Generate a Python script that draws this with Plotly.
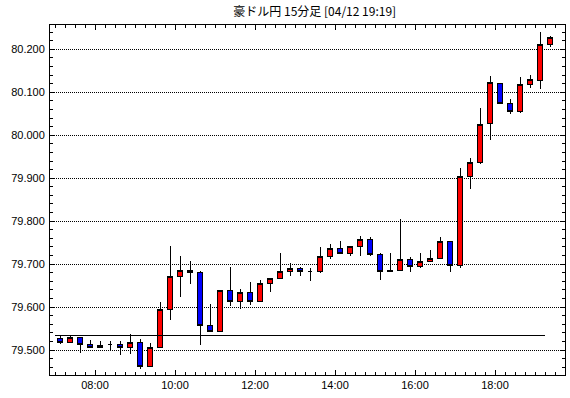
import plotly.graph_objects as go
import pandas as pd

# 15-minute periods (start times)
periods = pd.date_range("2012-04-12 07:00", "2012-04-12 19:15", freq="15min")

open_ = [79.527, 79.518, 79.530, 79.513, 79.505, 79.512, 79.512, 79.506, 79.518, 79.462,
         79.506, 79.595, 79.672, 79.686, 79.681, 79.557, 79.543, 79.639, 79.613, 79.634,
         79.613, 79.655, 79.667, 79.683, 79.690, 79.683, 79.683, 79.718, 79.737, 79.725,
         79.741, 79.758, 79.723, 79.685, 79.686, 79.711, 79.695, 79.706, 79.713, 79.753,
         79.697, 79.903, 79.937, 80.027, 80.121, 80.073, 80.056, 80.118, 80.128, 80.211]
high = [79.534, 79.536, 79.531, 79.523, 79.520, 79.520, 79.520, 79.538, 79.526, 79.516,
        79.612, 79.742, 79.719, 79.707, 79.683, 79.607, 79.640, 79.693, 79.641, 79.658,
        79.662, 79.668, 79.726, 79.702, 79.693, 79.690, 79.740, 79.748, 79.754, 79.741,
        79.765, 79.762, 79.727, 79.725, 79.805, 79.716, 79.727, 79.732, 79.763, 79.755,
        79.923, 79.946, 80.064, 80.138, 80.121, 80.084, 80.135, 80.139, 80.240, 80.231]
low = [79.515, 79.516, 79.494, 79.505, 79.505, 79.499, 79.489, 79.492, 79.457, 79.462,
       79.504, 79.571, 79.624, 79.653, 79.512, 79.543, 79.543, 79.603, 79.595, 79.604,
       79.613, 79.636, 79.665, 79.672, 79.672, 79.661, 79.679, 79.711, 79.725, 79.718,
       79.718, 79.720, 79.662, 79.683, 79.686, 79.681, 79.692, 79.706, 79.711, 79.682,
       79.690, 79.875, 79.932, 79.988, 80.073, 80.049, 80.052, 80.109, 80.107, 80.206]
close = [79.517, 79.530, 79.513, 79.505, 79.510, 79.512, 79.506, 79.518, 79.462, 79.506,
         79.595, 79.672, 79.686, 79.681, 79.557, 79.543, 79.639, 79.613, 79.634, 79.613,
         79.655, 79.667, 79.683, 79.690, 79.683, 79.683, 79.718, 79.737, 79.725, 79.741,
         79.758, 79.723, 79.683, 79.683, 79.711, 79.695, 79.706, 79.713, 79.753, 79.697,
         79.903, 79.937, 80.025, 80.123, 80.073, 80.056, 80.118, 80.129, 80.211, 80.228]

ref_level = 79.533
ref_start = "2012-04-12 07:00"
ref_end = "2012-04-12 19:15"

title_text = "豪ドル円 15分足 [04/12 19:19]"

# candles drawn at the middle of each 15-minute period
centers = periods + pd.Timedelta(minutes=7.5)

fig = go.Figure()
fig.add_trace(go.Scatter(
    x=[ref_start, ref_end], y=[ref_level, ref_level], mode="lines",
    line=dict(color="black", width=1), hoverinfo="skip", showlegend=False))
fig.add_trace(go.Candlestick(
    x=centers, open=open_, high=high, low=low, close=close,
    increasing=dict(fillcolor="#FF0000", line=dict(color="black", width=1)),
    decreasing=dict(fillcolor="#0000FF", line=dict(color="black", width=1)),
    whiskerwidth=0, showlegend=False))

fig.update_layout(
    width=570, height=398,
    margin=dict(l=50, r=5, t=25, b=23),
    paper_bgcolor="white", plot_bgcolor="white",
    boxgap=0.3,
    font=dict(family="Liberation Sans, Arial, sans-serif", size=11, color="black"),
    title=dict(text=title_text, x=293 / 570, xanchor="center", xref="paper",
               y=1 - 12 / 398, yanchor="middle",
               font=dict(family="Noto Sans CJK JP", size=12, color="black")),
    showlegend=False,
)
fig.update_xaxes(
    type="date",
    range=["2012-04-12 06:52:30", "2012-04-12 19:45:00"],
    rangeslider=dict(visible=False),
    tick0="2012-04-12 08:00", dtick=2 * 3600 * 1000, tickformat="%H:%M",
    ticks="inside", ticklen=5, tickcolor="black", tickwidth=1,
    minor=dict(dtick=15 * 60 * 1000, tick0="2012-04-12 08:00", ticks="inside",
               ticklen=3, tickcolor="black", showgrid=False),
    showline=True, linecolor="black", linewidth=1, mirror="allticks",
    showgrid=False, zeroline=False,
    tickfont=dict(size=11, color="black"),
)
fig.update_yaxes(
    range=[79.442, 80.2565],
    tick0=79.5, dtick=0.1, tickformat=".3f",
    ticks="inside", ticklen=5, tickcolor="black", tickwidth=1,
    minor=dict(dtick=0.02, tick0=79.5, ticks="inside", ticklen=3, tickcolor="black",
               showgrid=False),
    showline=True, linecolor="black", linewidth=1, mirror="allticks",
    showgrid=True, gridcolor="black", gridwidth=1, griddash="1px,1px",
    zeroline=False, ticklabelstandoff=2,
    tickfont=dict(size=11, color="black"),
)

crisp_js = """
var st = document.createElement('style');
st.innerHTML = '.js-plotly-plot .plotly .trace path, .js-plotly-plot .plotly .gridlayer path,' +
  ' .js-plotly-plot .plotly .xtick, .js-plotly-plot .plotly .ytick { shape-rendering: crispEdges !important; }';
document.head.appendChild(st);
"""

fig.write_html("out.html", post_script=crisp_js)
